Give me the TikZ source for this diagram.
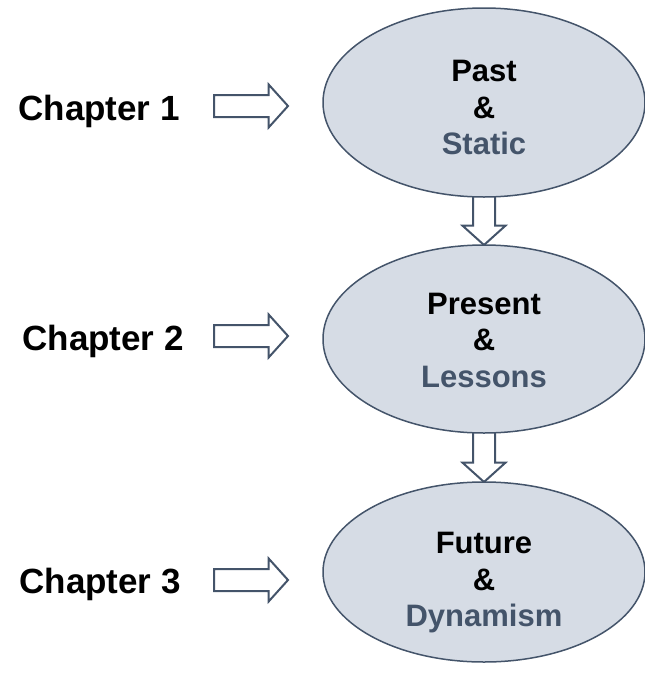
\documentclass[tikz,border=0pt]{standalone}
\usepackage{fontspec}
\setmainfont{Liberation Sans}
\usetikzlibrary{shapes.geometric,shapes.arrows,backgrounds}
\definecolor{edge}{HTML}{44546A}
\definecolor{bubble}{HTML}{D6DCE5}
\begin{document}
\begin{tikzpicture}[x=1pt,y=-1pt,
  era/.style={ellipse, draw=edge, line width=1.5pt, fill=bubble, minimum width=322pt,
    inner sep=0pt, outer sep=0pt},
  eratext/.style={inner sep=0pt, align=center, font=\fontsize{31}{36.5}\selectfont\bfseries},
  chap/.style={anchor=base east, inner sep=0pt, font=\fontsize{35}{42}\selectfont\bfseries},
  blk/.style={single arrow, draw=edge, fill=white, line width=2pt, inner sep=0pt,
    inner ysep=10pt, single arrow head extend=10.5pt, single arrow tip angle=96,
    anchor=tip, outer sep=0pt},
  rightblk/.style={blk, minimum height=74pt},
  downblk/.style={blk, minimum height=60pt, rotate=-90}]
\useasboundingbox (0,0) rectangle (645,673);
\node[era, minimum height=189pt] (e1) at (484,102.5) {};
\node[era, minimum height=188pt] (e2) at (484,339) {};
\node[era, minimum height=180pt] (e3) at (484,572) {};
\node[eratext] (e1t) at ([yshift=-5pt]e1.center) {Past\\\&\\\textcolor{edge}{Static}};
\node[eratext] (e2t) at ([yshift=-1pt]e2.center) {Present\\\&\\\textcolor{edge}{Lessons}};
\node[eratext] (e3t) at ([yshift=-11pt]e3.center) {Future\\\&\\\textcolor{edge}{Dynamism}};
\begin{scope}[on background layer]
  \node[downblk] (d1) at (e2.north) {};
  \node[downblk] (d2) at (e3.north) {};
\end{scope}
\coordinate (t1) at (288,106);
\coordinate (t2) at (288,336);
\coordinate (t3) at (288,580);
\node[rightblk] (r1) at (t1) {};
\node[rightblk] (r2) at (t2) {};
\node[rightblk] (r3) at (t3) {};
\node[chap] (c1) at (180,120) {Chapter 1};
\node[chap] (c2) at (184,350) {Chapter 2};
\node[chap] (c3) at (181,593) {Chapter 3};
\end{tikzpicture}
\end{document}
